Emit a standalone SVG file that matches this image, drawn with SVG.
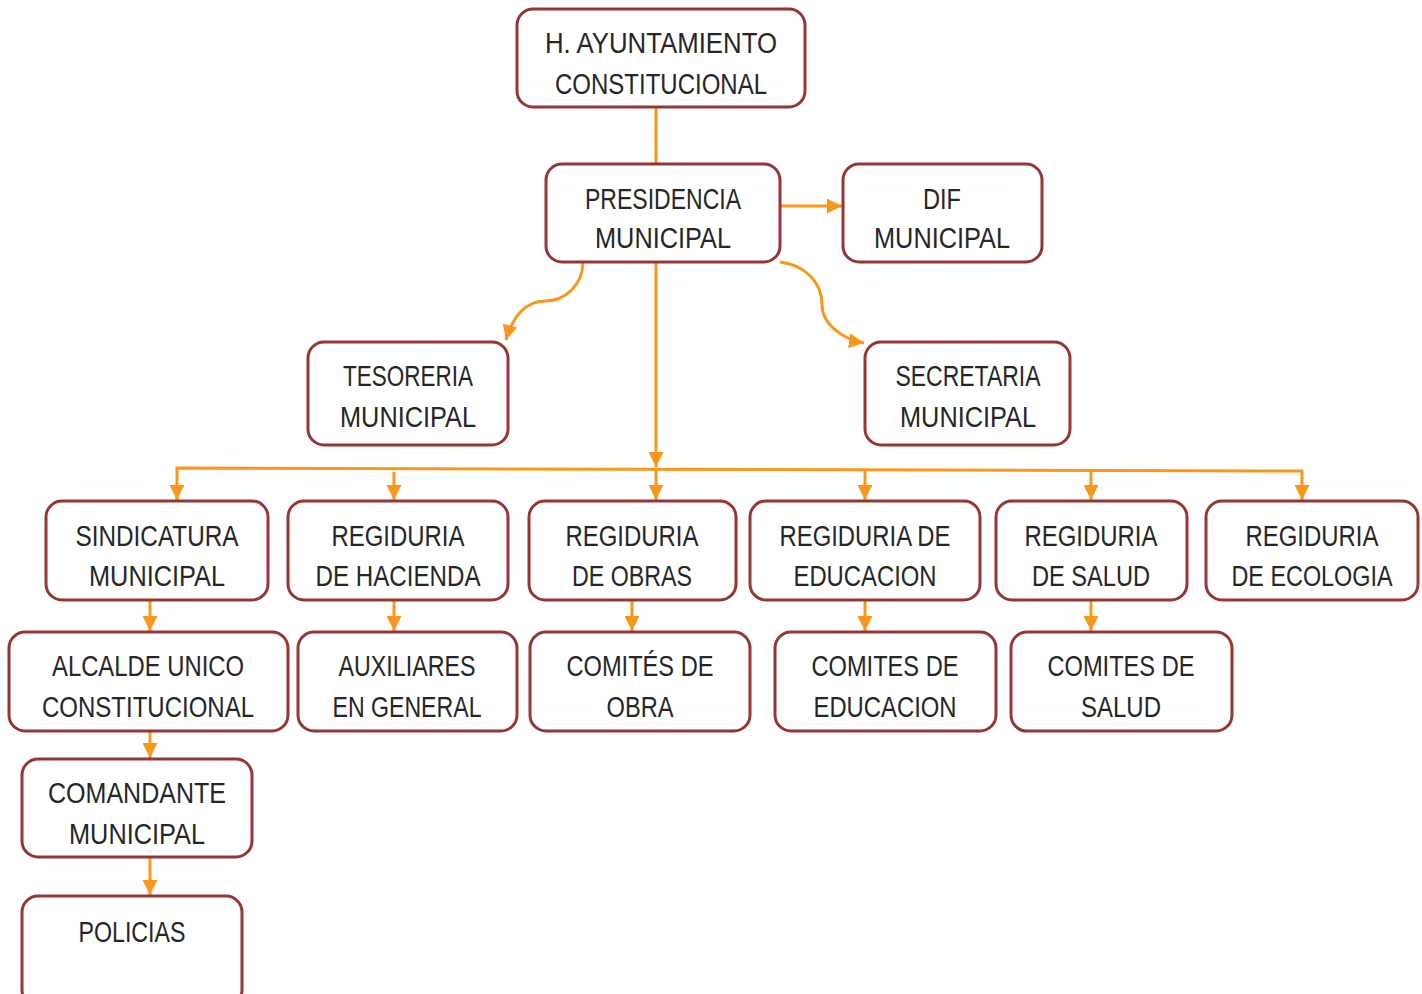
<svg xmlns="http://www.w3.org/2000/svg" width="1422" height="994" viewBox="0 0 1422 994">
<style>
.box{fill:#fff;stroke:#943634;stroke-width:3}
.t{font-family:"Liberation Sans",Arial,sans-serif;font-size:29px;fill:#262626;text-anchor:middle}
.c{fill:none;stroke:#F7981D;stroke-width:3}
</style>
<defs>
<marker id="a" viewBox="0 0 10 10" refX="10" refY="5" markerWidth="5" markerHeight="5" orient="auto" markerUnits="strokeWidth">
<path d="M0,0 L10,5 L0,10 z" fill="#F7981D"/>
</marker>
</defs>
<rect width="1422" height="994" fill="#fff"/>
<g id="connectors">
<path class="c" d="M656,107 V164"/>
<path class="c" d="M780,206 H842" marker-end="url(#a)"/>
<path class="c" d="M583,262 C583,285 565,301 545,301 C525,301 512,318 506,340" marker-end="url(#a)"/>
<path class="c" d="M780,262 C805,265 822,282 822,305 C822,325 845,340 864,343" marker-end="url(#a)"/>
<path class="c" d="M656,262 V467" marker-end="url(#a)"/>
<path class="c" d="M177,500 V468 L1302,471 V500" marker-end="url(#a)"/>
<path class="c" d="M177,490 V500" marker-end="url(#a)"/>
<path class="c" d="M394,472 V500" marker-end="url(#a)"/>
<path class="c" d="M656,469 V500" marker-end="url(#a)"/>
<path class="c" d="M865,470 V500" marker-end="url(#a)"/>
<path class="c" d="M1091,471 V500" marker-end="url(#a)"/>
<path class="c" d="M150,600 V631" marker-end="url(#a)"/>
<path class="c" d="M394,600 V631" marker-end="url(#a)"/>
<path class="c" d="M632,600 V631" marker-end="url(#a)"/>
<path class="c" d="M865,600 V631" marker-end="url(#a)"/>
<path class="c" d="M1091,600 V631" marker-end="url(#a)"/>
<path class="c" d="M150,731 V758" marker-end="url(#a)"/>
<path class="c" d="M150,857 V895" marker-end="url(#a)"/>
</g>
<g id="ayuntamiento"><rect class="box" x="517" y="9" width="288" height="98" rx="16"/>
<text class="t" x="661" y="53" textLength="232" lengthAdjust="spacingAndGlyphs">H. AYUNTAMIENTO</text>
<text class="t" x="661" y="94" textLength="212" lengthAdjust="spacingAndGlyphs">CONSTITUCIONAL</text></g>
<g id="presidencia"><rect class="box" x="546" y="164" width="234" height="98" rx="16"/>
<text class="t" x="663" y="209" textLength="156" lengthAdjust="spacingAndGlyphs">PRESIDENCIA</text>
<text class="t" x="663" y="248" textLength="136" lengthAdjust="spacingAndGlyphs">MUNICIPAL</text></g>
<g id="dif"><rect class="box" x="843" y="164" width="199" height="98" rx="16"/>
<text class="t" x="942" y="209" textLength="38" lengthAdjust="spacingAndGlyphs">DIF</text>
<text class="t" x="942" y="248" textLength="136" lengthAdjust="spacingAndGlyphs">MUNICIPAL</text></g>
<g id="tesoreria"><rect class="box" x="308" y="342" width="200" height="103" rx="16"/>
<text class="t" x="408" y="386" textLength="130" lengthAdjust="spacingAndGlyphs">TESORERIA</text>
<text class="t" x="408" y="427" textLength="136" lengthAdjust="spacingAndGlyphs">MUNICIPAL</text></g>
<g id="secretaria"><rect class="box" x="865" y="342" width="205" height="103" rx="16"/>
<text class="t" x="968" y="386" textLength="145" lengthAdjust="spacingAndGlyphs">SECRETARIA</text>
<text class="t" x="968" y="427" textLength="136" lengthAdjust="spacingAndGlyphs">MUNICIPAL</text></g>
<g id="sindicatura"><rect class="box" x="46" y="501" width="222" height="99" rx="16"/>
<text class="t" x="157" y="546" textLength="163" lengthAdjust="spacingAndGlyphs">SINDICATURA</text>
<text class="t" x="157" y="586" textLength="136" lengthAdjust="spacingAndGlyphs">MUNICIPAL</text></g>
<g id="hacienda"><rect class="box" x="288" y="501" width="220" height="99" rx="16"/>
<text class="t" x="398" y="546" textLength="133" lengthAdjust="spacingAndGlyphs">REGIDURIA</text>
<text class="t" x="398" y="586" textLength="165" lengthAdjust="spacingAndGlyphs">DE HACIENDA</text></g>
<g id="obras"><rect class="box" x="529" y="501" width="207" height="99" rx="16"/>
<text class="t" x="632" y="546" textLength="133" lengthAdjust="spacingAndGlyphs">REGIDURIA</text>
<text class="t" x="632" y="586" textLength="120" lengthAdjust="spacingAndGlyphs">DE OBRAS</text></g>
<g id="educacion"><rect class="box" x="750" y="501" width="230" height="99" rx="16"/>
<text class="t" x="865" y="546" textLength="171" lengthAdjust="spacingAndGlyphs">REGIDURIA DE</text>
<text class="t" x="865" y="586" textLength="143" lengthAdjust="spacingAndGlyphs">EDUCACION</text></g>
<g id="salud"><rect class="box" x="996" y="501" width="191" height="99" rx="16"/>
<text class="t" x="1091" y="546" textLength="133" lengthAdjust="spacingAndGlyphs">REGIDURIA</text>
<text class="t" x="1091" y="586" textLength="118" lengthAdjust="spacingAndGlyphs">DE SALUD</text></g>
<g id="ecologia"><rect class="box" x="1206" y="501" width="212" height="99" rx="16"/>
<text class="t" x="1312" y="546" textLength="133" lengthAdjust="spacingAndGlyphs">REGIDURIA</text>
<text class="t" x="1312" y="586" textLength="161" lengthAdjust="spacingAndGlyphs">DE ECOLOGIA</text></g>
<g id="alcalde"><rect class="box" x="9" y="632" width="279" height="99" rx="16"/>
<text class="t" x="148" y="676" textLength="192" lengthAdjust="spacingAndGlyphs">ALCALDE UNICO</text>
<text class="t" x="148" y="717" textLength="212" lengthAdjust="spacingAndGlyphs">CONSTITUCIONAL</text></g>
<g id="auxiliares"><rect class="box" x="298" y="632" width="219" height="99" rx="16"/>
<text class="t" x="407" y="676" textLength="137" lengthAdjust="spacingAndGlyphs">AUXILIARES</text>
<text class="t" x="407" y="717" textLength="149" lengthAdjust="spacingAndGlyphs">EN GENERAL</text></g>
<g id="comites-obra"><rect class="box" x="530" y="632" width="220" height="99" rx="16"/>
<text class="t" x="640" y="676" textLength="147" lengthAdjust="spacingAndGlyphs">COMITÉS DE</text>
<text class="t" x="640" y="717" textLength="67" lengthAdjust="spacingAndGlyphs">OBRA</text></g>
<g id="comites-educacion"><rect class="box" x="775" y="632" width="221" height="99" rx="16"/>
<text class="t" x="885" y="676" textLength="147" lengthAdjust="spacingAndGlyphs">COMITES DE</text>
<text class="t" x="885" y="717" textLength="143" lengthAdjust="spacingAndGlyphs">EDUCACION</text></g>
<g id="comites-salud"><rect class="box" x="1011" y="632" width="221" height="99" rx="16"/>
<text class="t" x="1121" y="676" textLength="147" lengthAdjust="spacingAndGlyphs">COMITES DE</text>
<text class="t" x="1121" y="717" textLength="80" lengthAdjust="spacingAndGlyphs">SALUD</text></g>
<g id="comandante"><rect class="box" x="22" y="759" width="230" height="98" rx="16"/>
<text class="t" x="137" y="803" textLength="178" lengthAdjust="spacingAndGlyphs">COMANDANTE</text>
<text class="t" x="137" y="844" textLength="136" lengthAdjust="spacingAndGlyphs">MUNICIPAL</text></g>
<g id="policias"><rect class="box" x="22" y="896" width="220" height="110" rx="16"/>
<text class="t" x="132" y="942" textLength="107" lengthAdjust="spacingAndGlyphs">POLICIAS</text></g>
</svg>
